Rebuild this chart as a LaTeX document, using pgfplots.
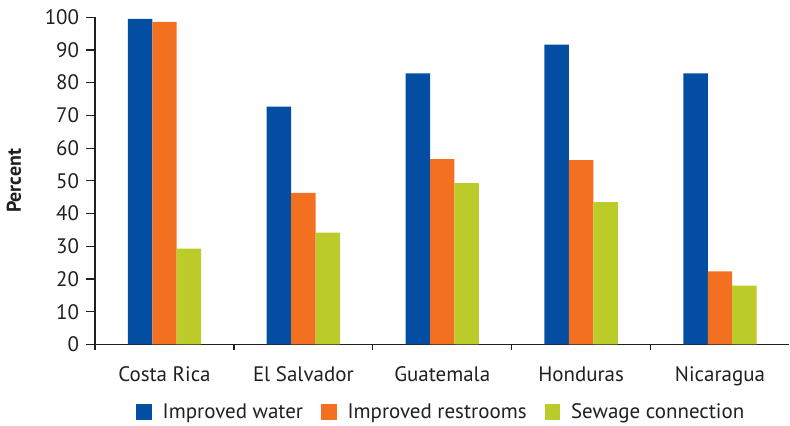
\documentclass[border=0pt]{standalone}
\usepackage{pgfplots}
\pgfplotsset{compat=1.18}
\usepackage{fontspec}
\setmainfont{PT Sans}
\definecolor{cblue}{RGB}{3,78,162}
\definecolor{corange}{RGB}{243,112,33}
\definecolor{cgreen}{RGB}{187,203,41}
\definecolor{ctext}{RGB}{35,31,32}
\begin{document}
\begin{tikzpicture}
\begin{axis}[
  scale only axis,
  width=348pt, height=164pt,
  ybar=0pt, bar width=12.25pt,
  xmin=-0.5, xmax=4.5, ymin=0, ymax=100,
  axis x line*=bottom, axis y line*=left,
  axis line style={ctext, line width=0.6pt},
  xtick={0,1,2,3,4},
  xticklabels={Costa Rica, El Salvador, Guatemala, Honduras, Nicaragua},
  major x tick style={draw=none},
  minor xtick={-0.5,0.5,1.5,2.5,3.5},
  minor x tick style={ctext, line width=0.6pt},
  minor tick length=2.8pt,
  ytick={0,10,...,100},
  y tick style={ctext, line width=0.6pt},
  major tick length=4.5pt,
  tick align=outside,
  tick label style={font=\fontsize{10.5}{12}\selectfont, text=ctext},
  xticklabel style={yshift=-3pt},
  /pgf/number format/assume math mode=true,
  ylabel={\bfseries Percent},
  ylabel style={font=\fontsize{10}{12}\selectfont, text=ctext, yshift=5pt},
  legend style={at={(0.5,-0.207)}, anchor=center, draw=none, legend columns=3,
    inner sep=0pt,
    font=\fontsize{10.5}{12}\selectfont, text=ctext,
    /tikz/every odd column/.append style={column sep=3.5pt},
    /tikz/every even column/.append style={column sep=7pt}},
  legend image code/.code={\fill[#1] (0pt,-3.9pt) rectangle (7.8pt,3.9pt);},
]
\addplot[fill=cblue, draw=none] coordinates {(0,99.5) (1,72.7) (2,82.8) (3,91.6) (4,82.8)};
\addplot[fill=corange, draw=none] coordinates {(0,98.6) (1,46.3) (2,56.6) (3,56.3) (4,22.3)};
\addplot[fill=cgreen, draw=none] coordinates {(0,29.3) (1,34.2) (2,49.3) (3,43.5) (4,18.0)};
\legend{Improved water, Improved restrooms, Sewage connection}
\end{axis}
\path (current bounding box.north) ++(0,1.5pt);
\end{tikzpicture}
\end{document}
